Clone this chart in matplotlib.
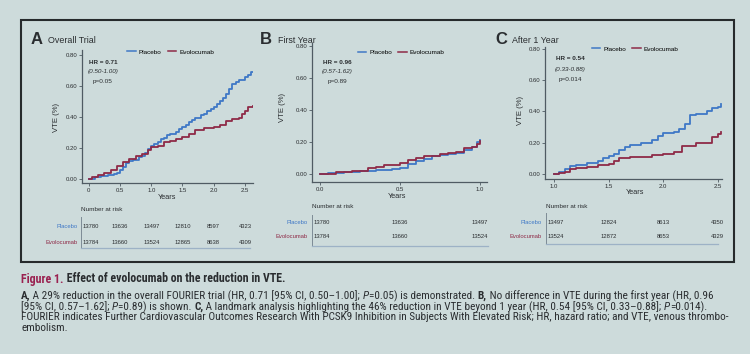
import matplotlib
matplotlib.use("Agg")
import matplotlib.pyplot as plt
from matplotlib import font_manager
from matplotlib.patches import Rectangle
from matplotlib.lines import Line2D
from matplotlib.transforms import blended_transform_factory

W, H = 750, 354
BG = "#cddbdb"
BLUE = "#3f78c6"
RED = "#8e2a47"
INK = "#2a2d30"
SPINE = "#4f5b63"
MAROON = "#9a2150"

# ---- data (cumulative VTE, %) ----
a_plac_t = [0, 0.1, 0.2, 0.3, 0.4, 0.45, 0.5, 0.55, 0.6, 0.65, 0.7, 0.8, 0.85, 0.9, 0.95, 1.0,
            1.05, 1.1, 1.15, 1.2, 1.25, 1.3, 1.4, 1.45, 1.5, 1.55, 1.6, 1.65, 1.7, 1.8, 1.85,
            1.9, 1.95, 2.0, 2.05, 2.1, 2.15, 2.2, 2.25, 2.3, 2.35, 2.4, 2.5, 2.55, 2.6, 2.63]
a_plac_y = [0, 0.01, 0.02, 0.025, 0.03, 0.04, 0.06, 0.08, 0.1, 0.115, 0.125, 0.14, 0.15, 0.17,
            0.19, 0.21, 0.225, 0.24, 0.255, 0.265, 0.28, 0.29, 0.305, 0.32, 0.335, 0.35, 0.365,
            0.38, 0.395, 0.41, 0.42, 0.435, 0.45, 0.465, 0.48, 0.5, 0.52, 0.55, 0.58, 0.61,
            0.625, 0.64, 0.655, 0.67, 0.69, 0.69]
a_evo_t = [0, 0.05, 0.15, 0.25, 0.35, 0.45, 0.55, 0.65, 0.75, 0.85, 0.95, 1.0, 1.1, 1.2, 1.3,
           1.4, 1.5, 1.6, 1.7, 1.85, 2.0, 2.1, 2.2, 2.3, 2.4, 2.45, 2.5, 2.55, 2.63]
a_evo_y = [0, 0.01, 0.025, 0.04, 0.06, 0.085, 0.11, 0.13, 0.145, 0.16, 0.185, 0.205, 0.215,
           0.235, 0.245, 0.255, 0.27, 0.29, 0.315, 0.325, 0.335, 0.345, 0.375, 0.385, 0.395,
           0.42, 0.44, 0.465, 0.47]

b_plac_t = [0, 0.05, 0.15, 0.25, 0.35, 0.45, 0.5, 0.55, 0.6, 0.65, 0.7, 0.75, 0.8, 0.85, 0.9,
            0.95, 0.98, 1.0]
b_plac_y = [0, 0.005, 0.01, 0.02, 0.025, 0.03, 0.04, 0.06, 0.08, 0.095, 0.11, 0.12, 0.125,
            0.13, 0.15, 0.17, 0.2, 0.21]
b_evo_t = [0, 0.1, 0.2, 0.3, 0.35, 0.4, 0.5, 0.55, 0.6, 0.65, 0.7, 0.75, 0.8, 0.85, 0.9, 0.95,
           0.98, 1.0]
b_evo_y = [0, 0.01, 0.02, 0.035, 0.045, 0.055, 0.07, 0.085, 0.1, 0.11, 0.115, 0.125, 0.13,
           0.14, 0.16, 0.17, 0.19, 0.205]

c_plac_t = [1.0, 1.05, 1.1, 1.15, 1.2, 1.3, 1.4, 1.45, 1.5, 1.55, 1.6, 1.65, 1.7, 1.8, 1.9,
            1.95, 2.0, 2.1, 2.15, 2.2, 2.25, 2.3, 2.4, 2.45, 2.5, 2.53]
c_plac_y = [0, 0.01, 0.03, 0.05, 0.06, 0.07, 0.08, 0.1, 0.115, 0.13, 0.15, 0.17, 0.185, 0.2,
            0.215, 0.24, 0.26, 0.27, 0.29, 0.32, 0.375, 0.38, 0.4, 0.42, 0.425, 0.445]
c_evo_t = [1.0, 1.05, 1.1, 1.15, 1.2, 1.3, 1.4, 1.5, 1.55, 1.6, 1.7, 1.8, 1.9, 2.0, 2.1, 2.17,
           2.3, 2.4, 2.45, 2.5, 2.53]
c_evo_y = [0, 0.005, 0.015, 0.03, 0.04, 0.045, 0.06, 0.065, 0.08, 0.1, 0.11, 0.11, 0.12,
           0.125, 0.14, 0.18, 0.2, 0.2, 0.235, 0.255, 0.265]

# number at risk
a_risk_t = [0, 0.5, 1.0, 1.5, 2.0, 2.5]
a_risk_plac = [13780, 13636, 13497, 12810, 8597, 4323]
a_risk_evo = [13784, 13660, 13524, 12865, 8638, 4309]
b_risk_t = [0, 0.5, 1.0]
b_risk_plac = [13780, 13636, 13497]
b_risk_evo = [13784, 13660, 13524]
c_risk_t = [1.0, 1.5, 2.0, 2.5]
c_risk_plac = [13497, 12824, 8613, 4350]
c_risk_evo = [13524, 12872, 8653, 4329]

hr_text = [("HR = 0.71", "(0.50-1.00)", "p=0.05"),
           ("HR = 0.96", "(0.57-1.62)", "p=0.89"),
           ("HR = 0.54", "(0.33-0.88)", "p=0.014")]

names = {f.name for f in font_manager.fontManager.ttflist}
CHART_FONT = "Liberation Sans" if "Liberation Sans" in names else "DejaVu Sans"
CAP_FONT = next((n for n in ["Liberation Sans Narrow", "DejaVu Sans Condensed",
                             "Roboto Condensed", "Open Sans Condensed", "Roboto"]
                 if n in names), "DejaVu Sans")
plt.rcParams["font.family"] = [CHART_FONT, "DejaVu Sans"]

fig = plt.figure(figsize=(W / 100, H / 100), dpi=100, facecolor=BG)


def ftext(x, y, s, **kw):
    kw.setdefault("color", INK)
    return fig.text(x / W, 1 - y / H, s, **kw)


def panel(box, xlim, ylim, xticks, xlabels, tp, yp, te, ye, legend_xy):
    l, t, r, b = box
    ax = fig.add_axes([l / W, 1 - b / H, (r - l) / W, (b - t) / H])
    ax.set_facecolor("none")
    ax.step(tp, yp, where="post", color=BLUE, lw=1.3)
    ax.step(te, ye, where="post", color=RED, lw=1.3)
    ax.set_xlim(*xlim)
    ax.set_ylim(*ylim)
    ax.set_xticks(xticks)
    ax.set_xticklabels(xlabels)
    yt = [0, 0.2, 0.4, 0.6, 0.8]
    ax.set_yticks(yt)
    ax.set_yticklabels([f"{v:.2f}" for v in yt])
    for s in ("top", "right"):
        ax.spines[s].set_visible(False)
    for s in ("left", "bottom"):
        ax.spines[s].set_color(SPINE)
        ax.spines[s].set_linewidth(0.9)
    ax.tick_params(labelsize=4.3, colors=SPINE, labelcolor=INK, length=2, width=0.6, pad=1.5)
    handles = [Line2D([], [], color=BLUE, lw=1.1), Line2D([], [], color=RED, lw=1.1)]
    ax.legend(handles, ["Placebo", "Evolocumab"], loc="center", bbox_to_anchor=legend_xy,
              ncol=2, frameon=False, fontsize=4.6, handlelength=1.3, handletextpad=0.5,
              columnspacing=1.0, borderpad=0)
    return ax


def risk_table(ax, rt, rp, re, x_spine, x_end, y_head, y_rows, y_top, y_bot, x_lab):
    tr = blended_transform_factory(ax.transData, fig.transFigure)
    ftext(x_spine, y_head, "Number at risk", fontsize=4.6, va="center")
    ftext(x_lab, y_rows[0], "Placebo", fontsize=4.2, color=BLUE, ha="right", va="center")
    ftext(x_lab, y_rows[1], "Evolocumab", fontsize=4.2, color=RED, ha="right", va="center")
    for vals, yr in zip((rp, re), y_rows):
        for i, (tv, n) in enumerate(zip(rt, vals)):
            if i == 0:
                # first column sits against the table's left rule
                ftext(x_spine + 1.5, yr, str(n), fontsize=4.2, va="center")
            else:
                ax.text(tv, 1 - yr / H, str(n), transform=tr, fontsize=4.2, color=INK,
                        ha="center", va="center", clip_on=False)
    fig.add_artist(Line2D([x_spine / W, x_spine / W], [1 - y_top / H, 1 - y_bot / H],
                          transform=fig.transFigure, color="#7d8b95", lw=0.7))
    fig.add_artist(Line2D([x_spine / W, x_end / W], [1 - y_bot / H, 1 - y_bot / H],
                          transform=fig.transFigure, color="#9db2c6", lw=0.9))


# outer frame
fig.add_artist(Rectangle((21 / W, 1 - 262 / H), (734 - 21) / W, (262 - 20) / H,
                         transform=fig.transFigure, fill=False, edgecolor="#262a2c", lw=1.5))

axA = panel((82, 50, 253, 183), (-0.11, 2.63), (-0.026, 0.83),
            [0, 0.5, 1.0, 1.5, 2.0, 2.5], ["0", "0.5", "1.0", "1.5", "2.0", "2.5"],
            a_plac_t, a_plac_y, a_evo_t, a_evo_y, (0.52, 0.985))
axB = panel((312, 43, 487, 182), (-0.05, 1.044), (-0.05, 0.82),
            [0, 0.5, 1.0], ["0.0", "0.5", "1.0"],
            b_plac_t, b_plac_y, b_evo_t, b_evo_y, (0.51, 0.93))
axC = panel((545, 47, 722, 179), (0.918, 2.54), (-0.032, 0.81),
            [1.0, 1.5, 2.0, 2.5], ["1.0", "1.5", "2.0", "2.5"],
            c_plac_t, c_plac_y, c_evo_t, c_evo_y, (0.51, 0.985))

# panel titles
for letter, lx, name, nx in [("A", 37, "Overall Trial", 48), ("B", 266, "First Year", 278),
                             ("C", 501, "After 1 Year", 512)]:
    ftext(lx, 40, letter, fontsize=12, weight="bold", ha="center", va="center")
    ftext(nx, 40.5, name, fontsize=6.4, va="center")

# axis labels
for x, y in [(57, 117), (283, 107), (520, 110)]:
    ftext(x, y, "VTE (%)", fontsize=5.6, rotation=90, ha="center", va="center")
for x, y in [(167, 198), (397, 197), (635, 193)]:
    ftext(x, y, "Years", fontsize=5.2, ha="center", va="center")

# HR annotations
for (hr, ci, p), (x, y0) in zip(hr_text, [(103, 62), (337, 62), (570, 59)]):
    ftext(x, y0, hr, fontsize=4.6, weight="bold", ha="center", va="center")
    ftext(x, y0 + 10, ci, fontsize=4.6, style="italic", ha="center", va="center")
    ftext(x, y0 + 20, p, fontsize=4.6, ha="center", va="center")

risk_table(axA, a_risk_t, a_risk_plac, a_risk_evo, 81, 250, 209, (226, 242), 217, 248, 78)
risk_table(axB, b_risk_t, b_risk_plac, b_risk_evo, 312, 488, 207, (223, 237), 215, 246, 308)
risk_table(axC, c_risk_t, c_risk_plac, c_risk_evo, 546, 718, 207, (223, 237), 213, 244, 542)

# caption
renderer = fig.canvas.get_renderer()


def runs_width(runs, size):
    w = 0
    for s, wt, st, col in runs:
        t = fig.text(0, 0, s, fontsize=size, weight=wt, style=st, family=CAP_FONT)
        w += t.get_window_extent(renderer).width
        t.remove()
    return w


def draw_runs(x, y, runs, size):
    for s, wt, st, col in runs:
        t = ftext(x, y, s, fontsize=size, weight=wt, style=st, color=col, family=CAP_FONT,
                  va="center")
        x += t.get_window_extent(renderer).width


N, B, I = "normal", "bold", "italic"
cap_title = [("Figure 1.", B, N, MAROON),
             (" Effect of evolocumab on the reduction in VTE.", B, N, INK)]
cap_lines = [
    [("A,", B, N, INK), (" A 29% reduction in the overall FOURIER trial (HR, 0.71 [95% CI, 0.50\u20131.00]; ", N, N, INK),
     ("P", N, I, INK), ("=0.05) is demonstrated. ", N, N, INK), ("B,", B, N, INK),
     (" No difference in VTE during the first year (HR, 0.96", N, N, INK)],
    [("[95% CI, 0.57\u20131.62]; ", N, N, INK), ("P", N, I, INK), ("=0.89) is shown. ", N, N, INK),
     ("C,", B, N, INK),
     (" A landmark analysis highlighting the 46% reduction in VTE beyond 1 year (HR, 0.54 [95% CI, 0.33\u20130.88]; ", N, N, INK),
     ("P", N, I, INK), ("=0.014).", N, N, INK)],
    [("FOURIER indicates Further Cardiovascular Outcomes Research With PCSK9 Inhibition in Subjects With Elevated Risk; HR, hazard ratio; and VTE, venous thrombo-", N, N, INK)],
    [("embolism.", N, N, INK)],
]

title_size = 7.0 * (264 / runs_width(cap_title, 7.0))
body_size = 7.0 * (697 / runs_width(cap_lines[0], 7.0))
draw_runs(21, 279, cap_title, title_size)
for line, y in zip(cap_lines, [296, 307, 317, 328]):
    draw_runs(21, y, line, body_size)

fig.savefig("out.png", dpi=100, facecolor=BG)
